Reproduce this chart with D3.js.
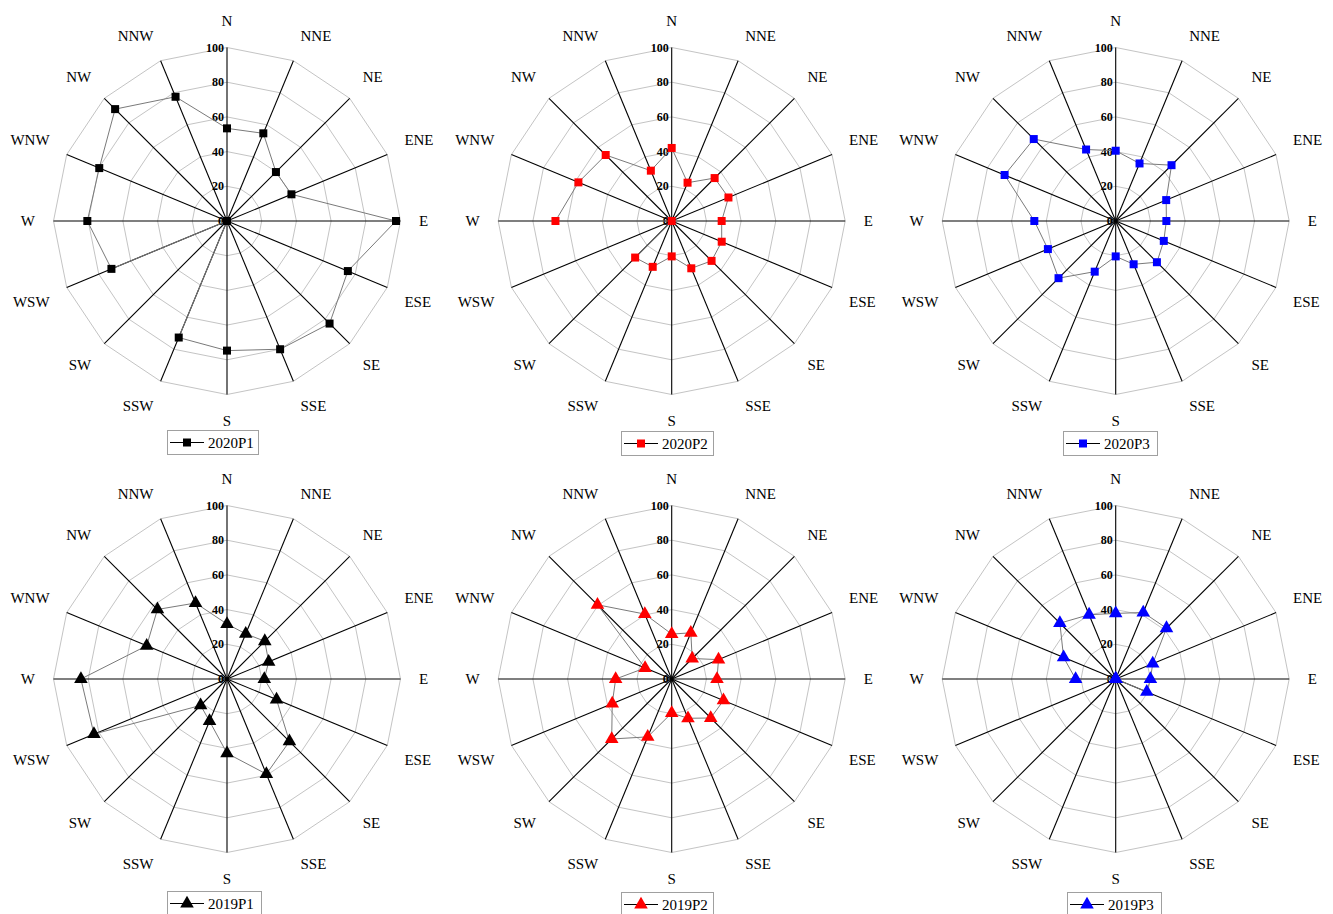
<!DOCTYPE html>
<html>
<head>
<meta charset="utf-8">
<script src="https://cdn.jsdelivr.net/npm/d3@7"></script>
<style>
  body { margin: 0; background: #fff; }
  text { font-family: 'Liberation Serif', 'Times New Roman', 'DejaVu Serif', serif; }
</style>
</head>
<body>
<svg id="chart" width="1333" height="914"></svg>
<script>
const directions = ["N","NNE","NE","ENE","E","ESE","SE","SSE","S","SSW","SW","WSW","W","WNW","NW","NNW"];
const tickValues = [0, 20, 40, 60, 80, 100];

const s2020P1 = [53.4, 54.7, 39.9, 40.2, 97.4, 75.4, 83.6, 80.0, 74.7, 72.7, 0, 72.1, 80.5, 79.7, 91.2, 77.5];
const s2020P2 = [42.1, 23.9, 35.0, 35.4, 28.8, 31.2, 32.5, 29.5, 20.4, 28.6, 29.8, 0, 67.0, 58.2, 53.8, 31.4];
const s2020P3 = [40.5, 35.9, 45.5, 31.5, 29.2, 30.0, 33.6, 27.0, 20.4, 31.6, 46.6, 42.3, 46.9, 69.3, 66.8, 44.6];
const s2019P1 = [31.7, 28.2, 30.8, 26.0, 21.5, 30.9, 50.9, 59.3, 42.8, 26.3, 21.5, 83.0, 84.2, 50.1, 56.7, 47.4];
const s2019P2 = [25.9, 28.8, 16.7, 29.2, 26.1, 32.3, 31.8, 24.5, 19.6, 36.1, 48.9, 37.1, 32.3, 16.6, 60.5, 40.5];
const s2019P3 = [37.8, 41.5, 41.4, 23.1, 20.0, 19.4, 0, 0, 0, 0, 0, 0, 23.1, 32.5, 45.5, 40.1];

const seriesNames = ["2020P1","2020P2","2020P3","2019P1","2019P2","2019P3"];
const seriesValues = [s2020P1, s2020P2, s2020P3, s2019P1, s2019P2, s2019P3];
const seriesColors = ["#000000","#ff0000","#0000ff","#000000","#ff0000","#0000ff"];
const seriesMarkers = ["square","square","square","triangle","triangle","triangle"];

// layout (positions only)
const layout = [
  {cx: 227,   cy: 221, legX: 167, legY: 430, legW: 91},
  {cx: 671.7, cy: 221, legX: 621, legY: 431, legW: 92},
  {cx: 1115.7,cy: 221, legX: 1063, legY: 431, legW: 94},
  {cx: 227,   cy: 679, legX: 167, legY: 891, legW: 94},
  {cx: 671.7, cy: 679, legX: 621, legY: 892, legW: 92},
  {cx: 1115.7,cy: 679, legX: 1067, legY: 892, legW: 94}
];

const FONT = "'Liberation Serif', 'Times New Roman', 'DejaVu Serif', serif";
const R = 173.5;
const rScale = d3.scaleLinear().domain([0, 100]).range([0, R]);
const angle = d3.scalePoint().domain(directions).range([0, 2 * Math.PI * (15/16)]);

const svg = d3.select("#chart");

function pt(dir, v, c) {
  const a = angle(dir);
  const r = rScale(v);
  return [c.cx + r * Math.sin(a), c.cy - r * Math.cos(a)];
}

const sqSym = d3.symbol().type(d3.symbolSquare).size(64);
const triSym = d3.symbol().type(d3.symbolTriangle).size(80);

function sgn(v) { return Math.abs(v) < 1e-6 ? 0 : Math.sign(v); }

seriesNames.forEach((name, k) => {
  const c = layout[k];
  const g = svg.append("g");
  const vals = seriesValues[k];

  // grid rings
  tickValues.filter(t => t > 0).forEach(t => {
    const pts = directions.map(d => pt(d, t, c));
    g.append("path")
      .attr("d", d3.line().curve(d3.curveLinearClosed)(pts))
      .attr("fill", "none")
      .attr("stroke", "#c4c4c4")
      .attr("stroke-width", 1);
  });

  // spokes
  directions.forEach(d => {
    const [x, y] = pt(d, 100, c);
    g.append("line")
      .attr("x1", c.cx).attr("y1", c.cy)
      .attr("x2", x).attr("y2", y)
      .attr("stroke", "#000")
      .attr("stroke-width", 1.1);
  });

  // tick labels
  tickValues.forEach(t => {
    g.append("text")
      .attr("x", c.cx - 3)
      .attr("y", c.cy - rScale(t))
      .attr("text-anchor", "end")
      .attr("dominant-baseline", "central")
      .attr("font-family", FONT)
      .attr("font-size", 12)
      .attr("font-weight", "bold")
      .attr("fill", "#000")
      .text(t);
  });

  // direction labels: box corner touches a point on radius ra
  directions.forEach(d => {
    const a = angle(d);
    const t = g.append("text")
      .attr("font-family", FONT)
      .attr("font-size", 15)
      .attr("text-anchor", "middle")
      .attr("dominant-baseline", "central")
      .attr("fill", "#000")
      .text(d);
    const w = t.node().getComputedTextLength();
    const hw = w / 2, hh = 8, ra = 192;
    const sx = Math.sin(a), cy = Math.cos(a);
    const x = c.cx + ra * sx + hw * sgn(sx);
    const y = c.cy - ra * cy - hh * sgn(cy);
    t.attr("x", x).attr("y", y);
  });

  // series line
  const pts = directions.map((d, i) => pt(d, vals[i], c));
  g.append("path")
    .attr("d", d3.line().curve(d3.curveLinearClosed)(pts))
    .attr("fill", "none")
    .attr("stroke", "#7a7a7a")
    .attr("stroke-width", 1);

  // markers
  const sym = seriesMarkers[k] === "square" ? sqSym : triSym;
  g.selectAll(".mk").data(pts).enter().append("path")
    .attr("d", sym())
    .attr("transform", p => `translate(${p[0]},${p[1]})`)
    .attr("fill", seriesColors[k]);

  // legend
  const lh = 24;
  const lg = svg.append("g").attr("transform", `translate(${c.legX},${c.legY})`);
  lg.append("rect")
    .attr("x", 0.5).attr("y", 0.5)
    .attr("width", c.legW).attr("height", lh)
    .attr("fill", "#fff")
    .attr("stroke", "#a0a0a0")
    .attr("stroke-width", 1);
  lg.append("line")
    .attr("x1", 3).attr("x2", 37)
    .attr("y1", lh / 2 + 0.5).attr("y2", lh / 2 + 0.5)
    .attr("stroke", "#000").attr("stroke-width", 1);
  lg.append("path")
    .attr("d", sym())
    .attr("transform", `translate(20,${lh / 2 + 0.5})`)
    .attr("fill", seriesColors[k]);
  lg.append("text")
    .attr("x", 41)
    .attr("y", lh / 2 + 1)
    .attr("dominant-baseline", "central")
    .attr("font-family", FONT)
    .attr("font-size", 15)
    .attr("fill", "#000")
    .text(name);
});
</script>
</body>
</html>
